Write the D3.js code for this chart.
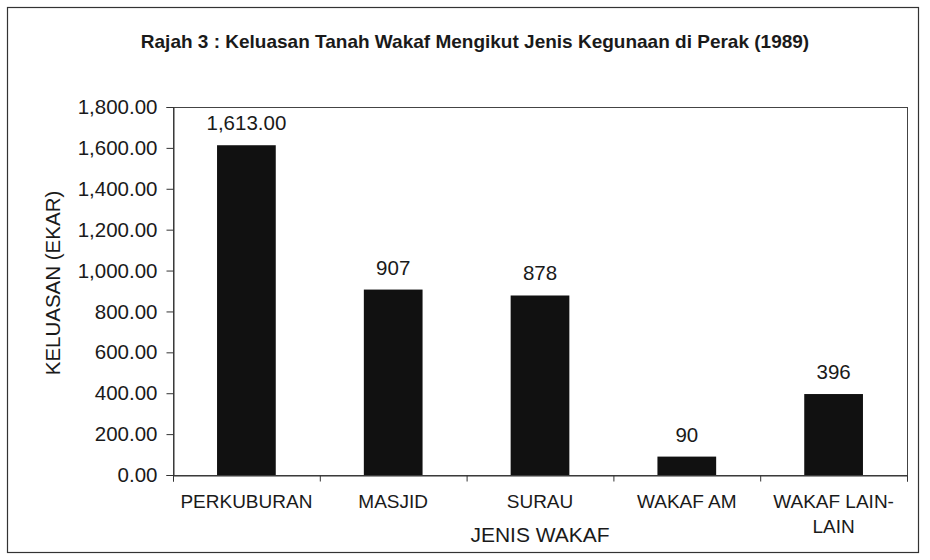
<!DOCTYPE html>
<html>
<head>
<meta charset="utf-8">
<script src="https://cdn.jsdelivr.net/npm/d3@7"></script>
<style>
  body { margin: 0; background: #fff; }
  svg text { font-family: "Liberation Sans", Arial, sans-serif; fill: #1a1a1a; }
</style>
</head>
<body>
<div id="chart"></div>
<script>
const categories = ["PERKUBURAN", "MASJID", "SURAU", "WAKAF AM", "WAKAF LAIN-LAIN"];
const values = [1613, 907, 878, 90, 396];
const valueLabels = ["1,613.00", "907", "878", "90", "396"];
const yTicks = [0, 200, 400, 600, 800, 1000, 1200, 1400, 1600, 1800];

const width = 930, height = 560;
const plot = { left: 173, right: 907, top: 107, bottom: 475 };

const svg = d3.select("#chart")
    .append("svg")
    .attr("width", width)
    .attr("height", height);

// outer chart border
svg.append("rect")
    .attr("x", 7.5).attr("y", 7.5)
    .attr("width", 911).attr("height", 545)
    .attr("fill", "none")
    .attr("stroke", "#333")
    .attr("stroke-width", 1.2);

svg.append("text")
    .attr("x", 475)
    .attr("y", 48)
    .attr("text-anchor", "middle")
    .style("font-size", "19px")
    .style("font-weight", "bold")
    .text("Rajah 3 : Keluasan Tanah Wakaf Mengikut Jenis Kegunaan di Perak (1989)");

const y = d3.scaleLinear()
    .domain([0, 1800])
    .range([plot.bottom, plot.top]);

const x = d3.scaleBand()
    .domain(categories)
    .range([plot.left, plot.right])
    .paddingInner(0.6)
    .paddingOuter(0.3);

// category boundaries for x tick marks
const xEdge = d3.scaleLinear()
    .domain([0, categories.length])
    .range([plot.left, plot.right]);

// plot frame
svg.append("rect")
    .attr("x", plot.left + 0.5).attr("y", plot.top + 0.5)
    .attr("width", plot.right - plot.left)
    .attr("height", plot.bottom - plot.top)
    .attr("fill", "none")
    .attr("stroke", "#444")
    .attr("stroke-width", 1);

const yAxis = svg.append("g")
    .attr("transform", `translate(${plot.left + 0.5},0)`)
    .call(d3.axisLeft(y)
        .tickValues(yTicks)
        .tickFormat(d3.format(",.2f"))
        .tickSize(7)
        .tickPadding(9));
yAxis.select(".domain").attr("stroke", "#333");
yAxis.selectAll(".tick line").attr("stroke", "#333");
yAxis.selectAll("text")
    .style("font-size", "20.5px")
    .attr("fill", "#1a1a1a");

const xAxis = svg.append("g")
    .attr("transform", `translate(0,${plot.bottom + 0.5})`)
    .call(d3.axisBottom(xEdge)
        .ticks(categories.length)
        .tickFormat("")
        .tickSize(6));
xAxis.select(".domain").attr("stroke", "#333");
xAxis.selectAll(".tick line").attr("stroke", "#333");

// bars
svg.selectAll("rect.bar")
    .data(values)
    .enter()
    .append("rect")
    .attr("class", "bar")
    .attr("x", (d, i) => x(categories[i]))
    .attr("y", (d) => y(d))
    .attr("width", x.bandwidth())
    .attr("height", (d) => y(0) - y(d))
    .attr("fill", "#111");

// value labels
svg.selectAll("text.vlabel")
    .data(values)
    .enter()
    .append("text")
    .attr("class", "vlabel")
    .attr("x", (d, i) => x(categories[i]) + x.bandwidth() / 2)
    .attr("y", (d) => y(d) - 15)
    .attr("text-anchor", "middle")
    .style("font-size", "20.5px")
    .text((d, i) => valueLabels[i]);

// category labels, wrapped after a hyphen
const catLabels = svg.selectAll("text.cat")
    .data(categories)
    .enter()
    .append("text")
    .attr("class", "cat")
    .attr("x", (d) => x(d) + x.bandwidth() / 2)
    .attr("y", 508)
    .attr("text-anchor", "middle")
    .style("font-size", "19px");

catLabels.each(function (d) {
    const lines = d.length > 12 ? d.split(/(?<=-)/) : [d];
    d3.select(this).selectAll("tspan")
        .data(lines)
        .enter()
        .append("tspan")
        .attr("x", x(d) + x.bandwidth() / 2)
        .attr("dy", (l, i) => (i === 0 ? 0 : 25))
        .text((l) => l);
});

svg.append("text")
    .attr("x", (plot.left + plot.right) / 2)
    .attr("y", 542)
    .attr("text-anchor", "middle")
    .style("font-size", "21px")
    .text("JENIS WAKAF");

svg.append("text")
    .attr("transform", "translate(60,283) rotate(-90)")
    .attr("text-anchor", "middle")
    .style("font-size", "20.5px")
    .text("KELUASAN (EKAR)");
</script>
</body>
</html>
